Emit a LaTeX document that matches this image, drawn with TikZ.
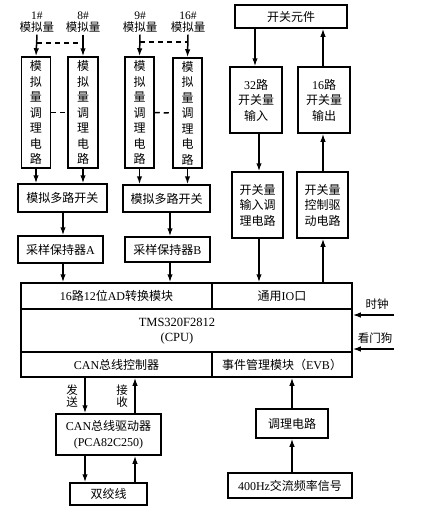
\documentclass[tikz,border=0pt]{standalone}
\usepackage{fontspec}
\setmainfont{Liberation Serif}
\newfontfamily\cjk{Noto Sans CJK SC}
\usetikzlibrary{arrows.meta,calc}
\begin{document}
\begin{tikzpicture}[x=1pt,y=-1pt,
  box/.style={draw,line width=1.5pt,inner sep=2pt,align=center,font=\fontsize{12}{15.5}\selectfont\cjk},
  cell/.style={draw,line width=1.5pt,inner sep=0pt,align=center,font=\fontsize{12}{15.5}\selectfont\cjk},
  arr/.style={line width=1.5pt,-{Latex[length=8pt,width=5.5pt]}},
  dsh/.style={line width=1.5pt,dash pattern=on 5pt off 4pt},
  lbl/.style={align=center,inner sep=2pt,font=\fontsize{11.5}{12.5}\selectfont\cjk}]
\useasboundingbox (0,0) rectangle (426,509);
\fill[white] (0,0) rectangle (426,509);

% analog input labels
\node[lbl] (l1) at (37,22) {{\rmfamily 1\#}\\模拟量};
\node[lbl] (l8) at (83,22) {{\rmfamily 8\#}\\模拟量};
\node[lbl] (l9) at (140,22) {{\rmfamily 9\#}\\模拟量};
\node[lbl] (l16) at (188,22) {{\rmfamily 16\#}\\模拟量};

% conditioning boxes
\node[box,minimum width=29pt,minimum height=111pt] (a1) at (36,112.5) {模\\拟\\量\\调\\理\\电\\路};
\node[box,minimum width=30pt,minimum height=111pt] (a8) at (83,112.5) {模\\拟\\量\\调\\理\\电\\路};
\node[box,minimum width=29pt,minimum height=111pt] (a9) at (139.5,112.5) {模\\拟\\量\\调\\理\\电\\路};
\node[box,minimum width=29pt,minimum height=110pt] (a16) at (187.5,113) {模\\拟\\量\\调\\理\\电\\路};

% dashed links
\coordinate (d1) at (37,43);
\coordinate (d8) at (83,43);
\coordinate (d9) at (140,42);
\coordinate (d16) at (188,42);
\draw[dsh] (d1) -- (d8);
\draw[dsh] (d9) -- (d16);
\draw[dsh] (a1.east) -- (a8.west);
\draw[dsh] (a9.east) -- (a16.west);
\draw[arr] (l1.south) -- (a1.north);
\draw[arr] (l8.south) -- (a8.north);
\draw[arr] (l9.south) -- (a9.north);
\draw[arr] (l16.south) -- (a16.north);

% multiplexers
\node[box,minimum width=89pt,minimum height=28pt] (muxA) at (62.5,198) {模拟多路开关};
\node[box,minimum width=87pt,minimum height=27pt] (muxB) at (166.5,198.5) {模拟多路开关};
\draw[arr] (a1.south) -- (a1.south |- muxA.north);
\draw[arr] (a8.south) -- (a8.south |- muxA.north);
\draw[arr] (a9.south) -- (a9.south |- muxB.north);
\draw[arr] (a16.south) -- (a16.south |- muxB.north);

% sample and hold
\node[box,minimum width=85pt,minimum height=27pt] (shA) at (60.5,249.5) {采样保持器{\rmfamily A}};
\node[box,minimum width=85pt,minimum height=25pt] (shB) at (167.5,249.5) {采样保持器{\rmfamily B}};
\draw[arr] (muxA.south -| 63,0) -- (shA.north -| 63,0);
\draw[arr] (muxB.south -| 170,0) -- (shB.north -| 170,0);

% CPU block
\node[cell,minimum width=191pt,minimum height=26pt] (ad) at (116.5,296) {{\rmfamily 16}路{\rmfamily 12}位{\rmfamily AD}转换模块};
\node[cell,minimum width=140pt,minimum height=26pt] (io) at (282,296) {通用{\rmfamily IO}口};
\node[cell,minimum width=331pt,minimum height=43pt] (cpu) at (186.5,330.5) {};
\node[align=center,inner sep=0pt,font=\fontsize{12.5}{15}\selectfont] (cputxt) at (177,331) {TMS320F2812\\(CPU)};
\node[cell,minimum width=191pt,minimum height=25pt] (can) at (116.5,364.5) {{\rmfamily CAN}总线控制器};
\node[cell,minimum width=140pt,minimum height=25pt] (evb) at (282,364.5) {事件管理模块（{\rmfamily EVB}）};
\draw[arr] (shA.south -| 63,0) -- (ad.north -| 63,0);
\draw[arr] (shB.south -| 170,0) -- (ad.north -| 170,0);

% switch side
\node[box,minimum width=112pt,minimum height=23pt] (sw) at (291,16.5) {开关元件};
\node[box,minimum width=52pt,minimum height=66pt] (in32) at (256,100) {{\rmfamily 32}路\\开关量\\输入};
\node[box,minimum width=52pt,minimum height=66pt] (out16) at (324,100) {{\rmfamily 16}路\\开关量\\输出};
\node[box,minimum width=51pt,minimum height=66pt] (incond) at (257.5,205) {开关量\\输入调\\理电路};
\node[box,minimum width=51pt,minimum height=66pt] (outdrv) at (322.5,205) {开关量\\控制驱\\动电路};
\draw[arr] (sw.south -| 255,0) -- (in32.north -| 255,0);
\draw[arr] (out16.north -| 323,0) -- (sw.south -| 323,0);
\draw[arr] (in32.south -| 259,0) -- (incond.north -| 259,0);
\draw[arr] (outdrv.north -| 323,0) -- (out16.south -| 323,0);
\draw[arr] (incond.south -| 259,0) -- (io.north -| 259,0);
\draw[arr] (io.north -| 323,0) -- (outdrv.south -| 323,0);

% clock and watchdog
\node[lbl,font=\fontsize{11.5}{13}\selectfont\cjk] (clk) at (377,304) {时钟};
\node[lbl,font=\fontsize{11.5}{13}\selectfont\cjk] (wd) at (375,338) {看门狗};
\coordinate (clkS) at (394,315);
\coordinate (wdS) at (394,349);
\draw[arr] (clkS) -- (clkS -| cpu.east);
\draw[arr] (wdS) -- (wdS -| cpu.east);

% CAN side
\node[box,minimum width=105pt,minimum height=41pt] (drv) at (108.5,434.5) {{\rmfamily CAN}总线驱动器\\{\rmfamily (PCA82C250)}};
\node[box,minimum width=77pt,minimum height=22pt] (tw) at (108.5,494) {双绞线};
\draw[arr] (can.south -| 85,0) -- (drv.north -| 85,0);
\draw[arr] (drv.north -| 135,0) -- (can.south -| 135,0);
\draw[arr] (drv.south -| 85,0) -- (tw.north -| 85,0);
\draw[arr] (tw.north -| 135,0) -- (drv.south -| 135,0);
\node[lbl,font=\fontsize{11.5}{12.5}\selectfont\cjk] (send) at (72,396) {发\\送};
\node[lbl,font=\fontsize{11.5}{12.5}\selectfont\cjk] (recv) at (122,396) {接\\收};

% EVB side
\node[box,minimum width=72pt,minimum height=29pt] (cond) at (292,423.5) {调理电路};
\node[box,minimum width=124pt,minimum height=25pt] (hz) at (290,485.5) {{\rmfamily 400Hz}交流频率信号};
\draw[arr] (cond.north) -- (cond.north |- evb.south);
\draw[arr] (cond.south |- hz.north) -- (cond.south);
\end{tikzpicture}
\end{document}
